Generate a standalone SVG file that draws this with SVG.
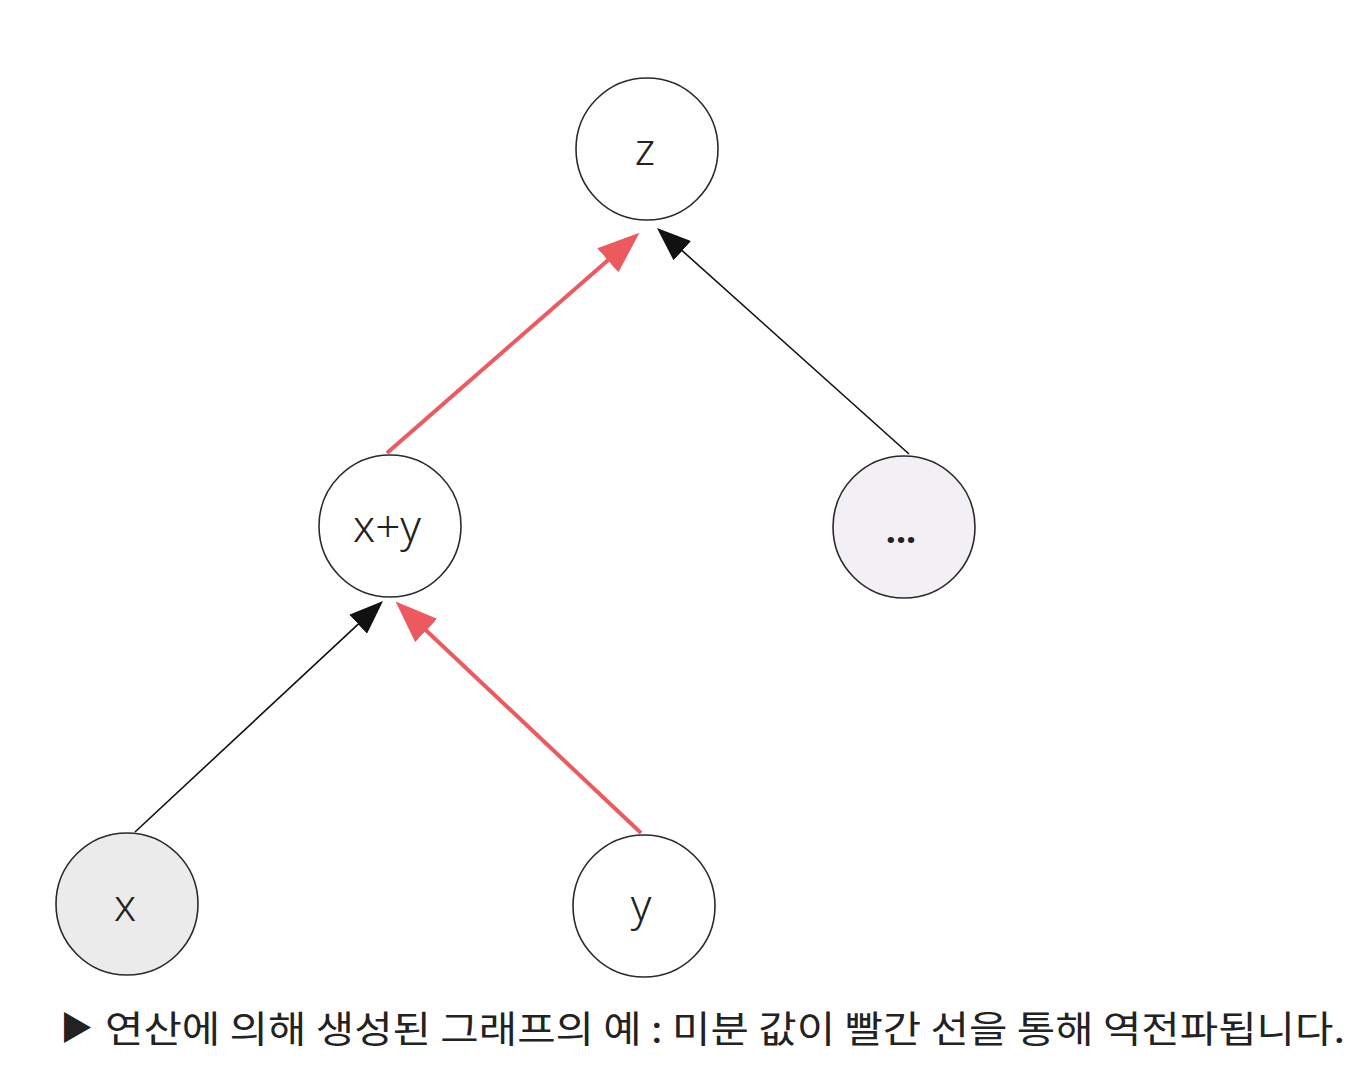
<svg xmlns="http://www.w3.org/2000/svg" width="1367" height="1073" viewBox="0 0 1367 1073">
<style>
.node{stroke:#2a2a2a;stroke-width:1.6}
.lbl{font-family:"Noto Sans","Liberation Sans",sans-serif;font-weight:300;font-size:44px;fill:#222;text-anchor:middle}
.red{stroke:#ec5a5f;stroke-width:4;fill:none}
.blk{stroke:#111;stroke-width:1.6;fill:none}
.cap{font-family:"Noto Sans CJK KR","Noto Sans",sans-serif;font-size:37px;fill:#222}
</style>
<defs>
<marker id="ar" markerUnits="userSpaceOnUse" markerWidth="42" markerHeight="32" refX="20" refY="16" orient="auto" viewBox="0 0 42 32">
<path d="M0,0 L42,16 L0,32 z" fill="#ec5a5f"/>
</marker>
<marker id="ab" markerUnits="userSpaceOnUse" markerWidth="34" markerHeight="26" refX="17" refY="13" orient="auto" viewBox="0 0 34 26">
<path d="M0,0 L34,13 L0,26 z" fill="#111"/>
</marker>
</defs>
<rect width="1367" height="1073" fill="#fff"/>
<g id="connectors">
<line class="red" x1="387" y1="453" x2="622.9" y2="247.2" marker-end="url(#ar)"/>
<line class="blk" x1="909" y1="454" x2="669.6" y2="239.4" marker-end="url(#ab)"/>
<line class="blk" x1="135" y1="832" x2="370.6" y2="612.6" marker-end="url(#ab)"/>
<line class="red" x1="641" y1="833" x2="411.6" y2="616.7" marker-end="url(#ar)"/>
</g>
<g id="node-z"><circle class="node" cx="647" cy="149" r="71" fill="#fff"/><text class="lbl" x="645" y="165">z</text></g>
<g id="node-xy"><circle class="node" cx="390" cy="526" r="71" fill="#fff"/><text class="lbl" x="387" y="542">x+y</text></g>
<g id="node-etc"><circle class="node" cx="904" cy="527" r="71" fill="#f2eff5"/><text class="lbl" x="901" y="543" style="font-weight:700;font-size:36px">...</text></g>
<g id="node-x"><circle class="node" cx="127" cy="904" r="71" fill="#ebebeb"/><text class="lbl" x="125" y="921">x</text></g>
<g id="node-y"><circle class="node" cx="644" cy="906" r="71" fill="#fff"/><text class="lbl" x="641" y="921">y</text></g>
<g id="caption">
<text class="cap" x="60" y="1040" style="font-size:33px">▶</text>
<text class="cap" x="105" y="1043" textLength="1240" lengthAdjust="spacingAndGlyphs">연산에 의해 생성된 그래프의 예 : 미분 값이 빨간 선을 통해 역전파됩니다.</text>
</g>
</svg>
